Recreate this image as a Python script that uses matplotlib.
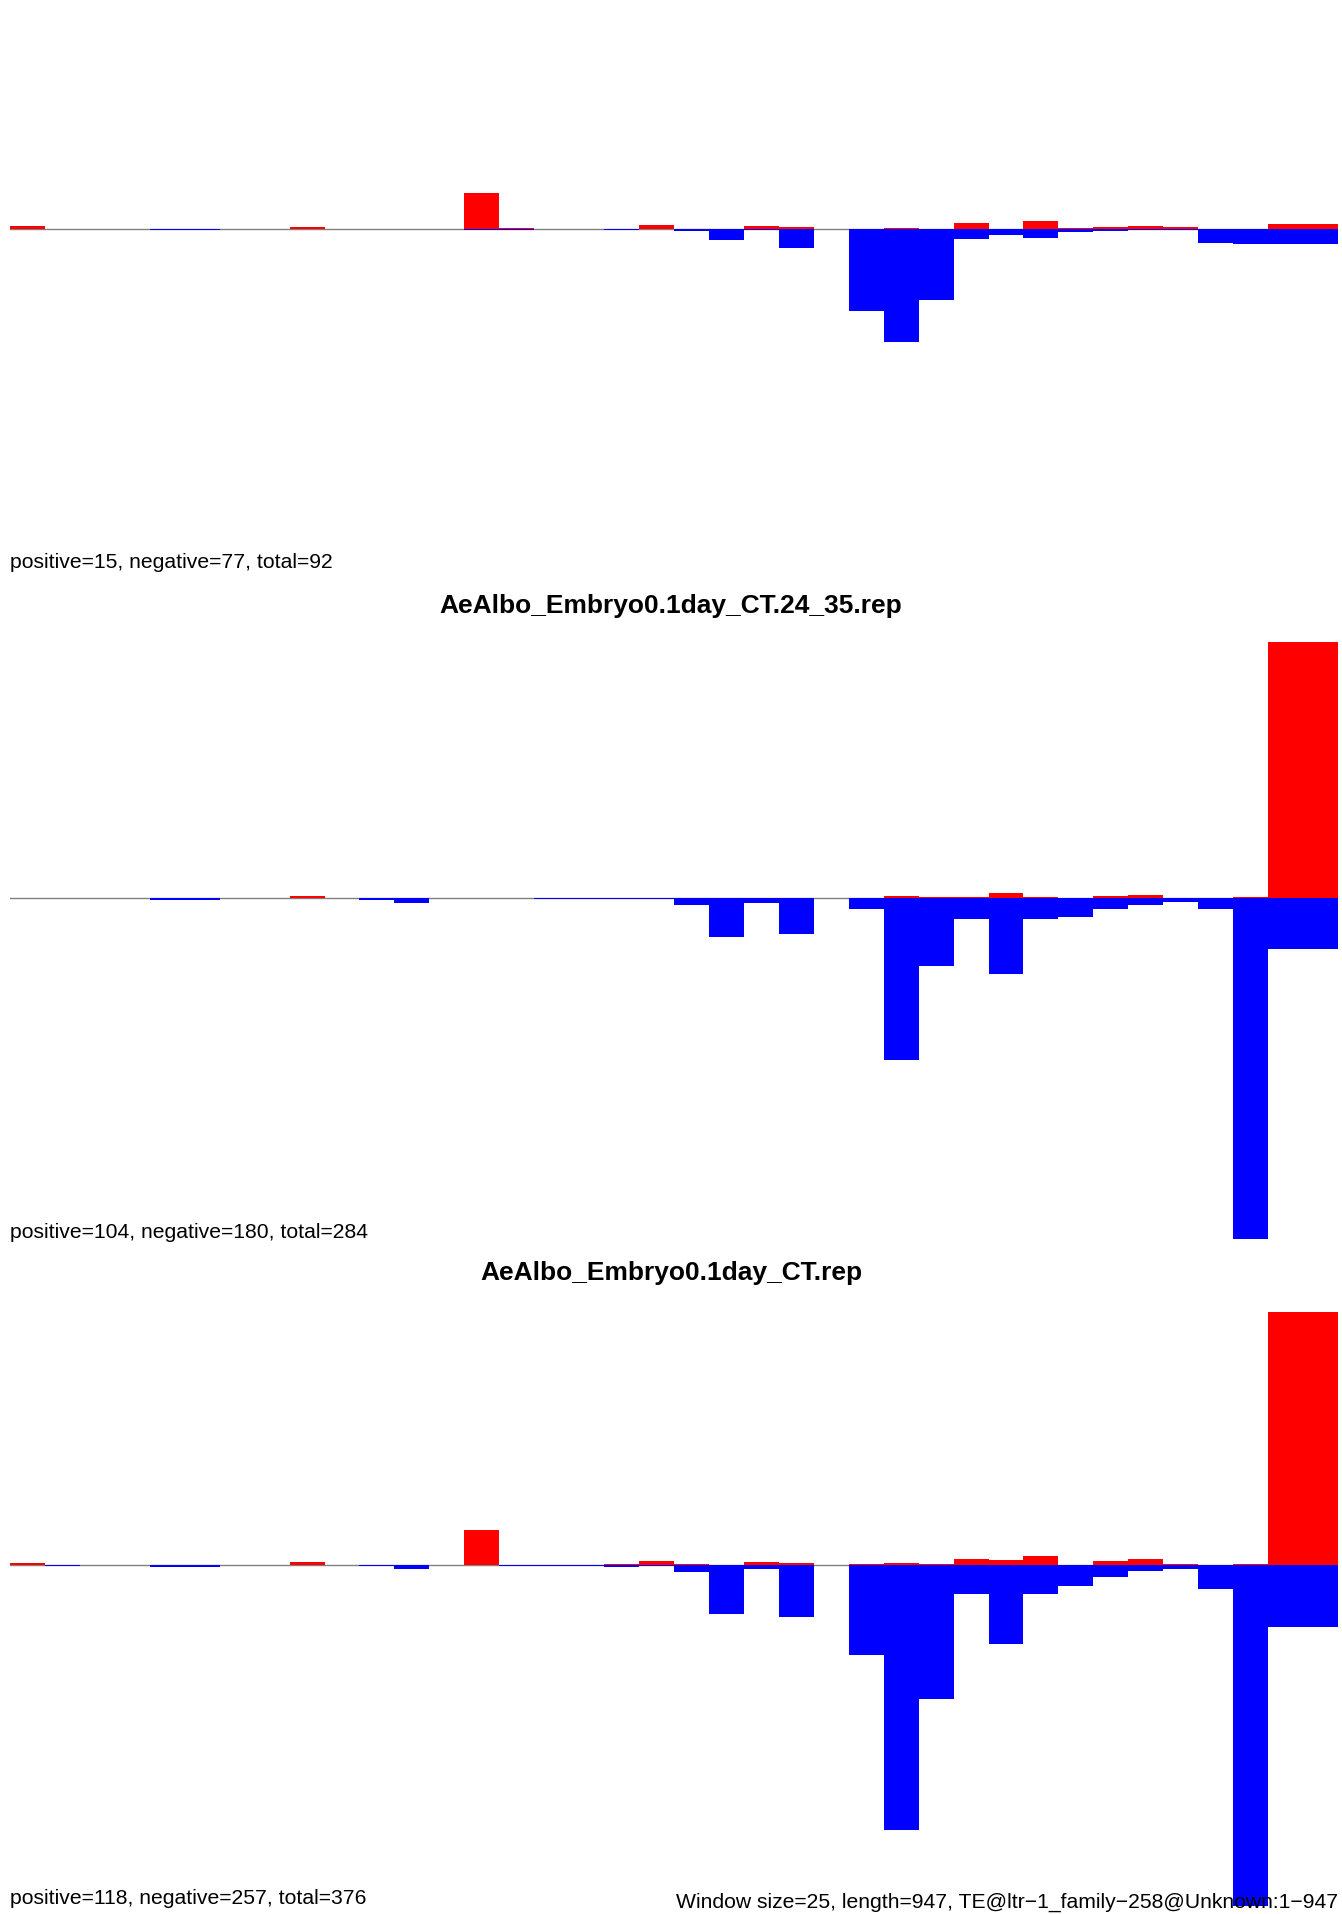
import matplotlib
matplotlib.use("Agg")
import matplotlib.pyplot as plt
import numpy as np

# 38 windows of 25 bp along a 947 bp TE
window = 25
n_bins = 38
starts = np.arange(n_bins) * window

# the first panel's title lies above the top edge of the picture
titles = [
    None,
    "AeAlbo_Embryo0.1day_CT.24_35.rep",
    "AeAlbo_Embryo0.1day_CT.rep",
]
summaries = [
    "positive=15, negative=77, total=92",
    "positive=104, negative=180, total=284",
    "positive=118, negative=257, total=376",
]
footer = "Window size=25, length=947, TE@ltr\u22121_family\u2212258@Unknown:1\u2212947"

# (shared arbitrary scale)
pos1 = [2.3, 0, 0, 0, 0, 0, 0, 0, 1.5, 0, 0, 0, 0, 35.6, 0.7, 0, 0, 0, 3.5,
        0, 0, 2.4, 1.6, 0, 0, 0.8, 0, 5.5, 0, 7.5, 0.7, 1.6, 2.4, 1.6, 0, 0, 4.6, 4.6]
neg1 = [0, -0.5, 0, 0, -1.5, -1.5, 0, 0, 0, 0, 0, 0, -0.5, -1.0, -1.0, -0.5, 0, -1.5, 0,
        -2.5, -11.6, -1.6, -19.6, 0, -82.3, -113.4, -71.4, -10.7, -6.4, -9.7, -3.5, -2.5,
        -1.2, -1.2, -14.5, -15.7, -15.7, -15.7]

pos2 = [0, 0, 0, 0, 0, 0, 0, 0, 2.5, 0, 0, 0, 0, 0, 0, 0, 0, 0, 0,
        0.8, 0, 0.8, 0.8, 0, 0, 2.5, 1.3, 1.3, 5.5, 1.3, 0, 2.5, 3.4, 0, 0, 1.3, 256, 256]
neg2 = [0, 0, 0, 0, -1.3, -1.3, 0, 0, 0, 0, -1.3, -5.0, 0, 0, 0, -0.8, -0.8, -0.8, -0.8,
        -6.3, -39.0, -4.2, -35.4, 0, -10.9, -161.2, -67.3, -20.2, -75.3, -21.0, -18.9,
        -10.9, -6.3, -3.8, -10.1, -341, -50.1, -50.1]

pos3 = [2.1, 0, 0, 0, 0, 0, 0, 0, 2.9, 0, 0, 0, 0, 35.0, 0, 0, 0, 0.8, 3.8,
        0.8, 0, 2.9, 2.1, 0, 0.8, 2.1, 0.8, 5.8, 5.0, 8.8, 0, 3.8, 5.8, 0.8, 0, 0.8, 252.7, 252.7]
neg3 = [0, -0.8, 0, 0, -1.7, -1.7, 0, 0, 0, 0, -0.8, -4.6, -0.5, 0, -0.8, -0.8, -0.8, -1.7, -0.8,
        -7.5, -48.8, -4.6, -51.7, 0, -90.5, -264.8, -133.9, -29.6, -78.8, -29.6, -20.9,
        -12.5, -5.8, -4.6, -23.8, -352, -62.6, -62.6]

positives = [pos1, pos2, pos3]
negatives = [neg1, neg2, neg3]

W, H = 1342, 1914
fig = plt.figure(figsize=(W / 100, H / 100), dpi=100)
plt.rcParams['font.family'] = ['Liberation Sans', 'DejaVu Sans']

zero_px = [228.5, 898.4, 1564.8]
up_px, down_px = 256, 341
left_px, right_px = 10, 1338

for k in range(3):
    z = zero_px[k]
    bottom = 1 - (z + down_px) / H
    ax = fig.add_axes([left_px / W, bottom, (right_px - left_px) / W, (up_px + down_px) / H])
    ax.axhline(0, color="#808080", lw=1.0, zorder=0)
    ax.bar(starts, positives[k], width=window, align="edge", color="#ff0000", lw=0, zorder=2)
    ax.bar(starts, negatives[k], width=window, align="edge", color="#0000ff", lw=0, zorder=2)
    ax.set_xlim(0, n_bins * window)
    ax.set_ylim(-down_px, up_px)
    ax.axis("off")

    if titles[k]:
        fig.text(0.5, 1 - (z - 292) / H, titles[k], ha="center", va="center",
                 fontsize=19, fontweight="bold")
    fig.text(left_px / W, 1 - (z + 334) / H, summaries[k], ha="left", va="center",
             fontsize=15.2, zorder=5)

fig.text(right_px / W, 1 - 1902 / H, footer, ha="right", va="center", fontsize=15.2, zorder=5)

plt.savefig("out.png", dpi=100)
